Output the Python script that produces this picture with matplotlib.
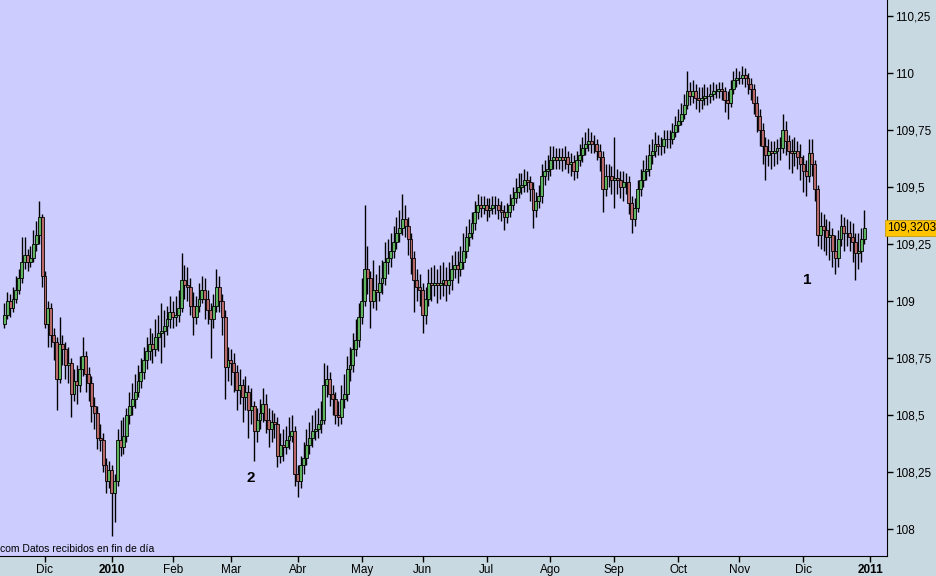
import numpy as np
import pandas as pd
import matplotlib
matplotlib.use('Agg')
import matplotlib.pyplot as plt

plt.rcParams['font.family'] = ['Liberation Sans', 'DejaVu Sans']

# sesiones diarias (dias habiles) 11-nov-2009 .. 30-dic-2010
dates = pd.bdate_range('2009-11-11', '2010-12-30')

first_open = 108.90
closes = [
    108.94, 109.00, 108.97, 109.01, 109.05, 109.10, 109.17, 109.20, 109.17, 109.19,
    109.25, 109.29, 109.37, 109.11, 108.90, 108.97, 108.85, 108.82, 108.66, 108.81,
    108.79, 108.72, 108.73, 108.59, 108.65, 108.63, 108.70, 108.76, 108.68, 108.64,
    108.54, 108.51, 108.40, 108.39, 108.28, 108.21, 108.26, 108.16, 108.21, 108.39,
    108.36, 108.41, 108.50, 108.54, 108.57, 108.60, 108.65, 108.69, 108.74, 108.78,
    108.81, 108.79, 108.84, 108.86, 108.87, 108.89, 108.92, 108.95, 108.93, 108.94,
    108.97, 109.09, 109.07, 109.06, 108.98, 108.93, 108.98, 109.01, 109.05, 109.01,
    108.96, 108.92, 108.98, 109.06, 109.00, 108.93, 108.71, 108.74, 108.73, 108.69,
    108.61, 108.63, 108.58, 108.60, 108.52, 108.54, 108.43, 108.48, 108.51, 108.55,
    108.48, 108.44, 108.47, 108.46, 108.32, 108.37, 108.36, 108.39, 108.41, 108.43,
    108.24, 108.21, 108.28, 108.31, 108.37, 108.40, 108.43, 108.44, 108.46, 108.48,
    108.63, 108.66, 108.59, 108.57, 108.50, 108.49, 108.57, 108.59, 108.70, 108.72,
    108.79, 108.83, 108.93, 109.00, 109.14, 109.10, 109.00, 109.05, 109.04, 109.08,
    109.10, 109.17, 109.19, 109.22, 109.26, 109.30, 109.32, 109.36, 109.33, 109.27,
    109.19, 109.09, 109.06, 109.05, 108.94, 109.01, 109.08, 109.07, 109.08, 109.07,
    109.08, 109.09, 109.07, 109.09, 109.14, 109.16, 109.14, 109.17, 109.22, 109.28,
    109.30, 109.34, 109.39, 109.42, 109.41, 109.42, 109.40, 109.41, 109.42, 109.42,
    109.40, 109.39, 109.37, 109.39, 109.42, 109.45, 109.48, 109.50, 109.51, 109.53,
    109.52, 109.49, 109.40, 109.44, 109.46, 109.55, 109.57, 109.58, 109.62, 109.63,
    109.62, 109.63, 109.62, 109.63, 109.60, 109.61, 109.57, 109.62, 109.64, 109.67,
    109.69, 109.70, 109.69, 109.69, 109.66, 109.63, 109.49, 109.55, 109.55, 109.53,
    109.54, 109.53, 109.50, 109.52, 109.52, 109.43, 109.36, 109.41, 109.49, 109.53,
    109.57, 109.58, 109.64, 109.66, 109.69, 109.68, 109.68, 109.71, 109.71, 109.71,
    109.74, 109.77, 109.79, 109.82, 109.86, 109.92, 109.90, 109.92, 109.89, 109.88,
    109.89, 109.90, 109.90, 109.91, 109.92, 109.92, 109.93, 109.92, 109.88, 109.87,
    109.93, 109.97, 109.98, 109.98, 109.99, 109.98, 109.95, 109.93, 109.87, 109.81,
    109.75, 109.68, 109.64, 109.66, 109.65, 109.66, 109.67, 109.67, 109.75, 109.70,
    109.66, 109.65, 109.66, 109.63, 109.60, 109.57, 109.55, 109.65, 109.60, 109.49,
    109.29, 109.33, 109.31, 109.28, 109.29, 109.22, 109.19, 109.27, 109.33, 109.30,
    109.30, 109.28, 109.26, 109.21, 109.22, 109.27, 109.3203,
]
highs = [
    108.99, 109.04, 109.03, 109.06, 109.11, 109.14, 109.28, 109.28, 109.23, 109.24,
    109.31, 109.35, 109.44, 109.38, 109.13, 109.00, 108.99, 108.88, 108.84, 108.93,
    108.85, 108.82, 108.80, 108.75, 108.70, 108.72, 108.76, 108.84, 108.78, 108.71,
    108.67, 108.58, 108.54, 108.46, 108.42, 108.31, 108.30, 108.28, 108.24, 108.44,
    108.48, 108.49, 108.53, 108.60, 108.64, 108.68, 108.72, 108.75, 108.80, 108.84,
    108.88, 108.86, 108.92, 108.94, 108.99, 108.96, 108.98, 109.02, 109.00, 109.02,
    109.05, 109.21, 109.16, 109.15, 109.10, 109.04, 109.02, 109.08, 109.11, 109.10,
    109.05, 108.99, 109.03, 109.14, 109.11, 109.03, 108.96, 108.80, 108.79, 108.77,
    108.72, 108.70, 108.66, 108.67, 108.63, 108.62, 108.56, 108.53, 108.57, 108.62,
    108.59, 108.53, 108.52, 108.51, 108.49, 108.42, 108.44, 108.45, 108.49, 108.50,
    108.45, 108.28, 108.32, 108.38, 108.44, 108.47, 108.50, 108.52, 108.53, 108.56,
    108.73, 108.72, 108.69, 108.63, 108.60, 108.56, 108.63, 108.68, 108.76, 108.80,
    108.86, 108.92, 108.99, 109.10, 109.42, 109.24, 109.13, 109.18, 109.12, 109.16,
    109.18, 109.26, 109.27, 109.30, 109.33, 109.37, 109.40, 109.47, 109.42, 109.37,
    109.30, 109.22, 109.14, 109.12, 109.08, 109.06, 109.14, 109.15, 109.16, 109.14,
    109.16, 109.17, 109.15, 109.17, 109.20, 109.22, 109.22, 109.24, 109.30, 109.33,
    109.36, 109.39, 109.44, 109.47, 109.46, 109.46, 109.45, 109.45, 109.46, 109.46,
    109.45, 109.44, 109.42, 109.43, 109.47, 109.50, 109.54, 109.56, 109.56, 109.58,
    109.57, 109.55, 109.52, 109.48, 109.51, 109.60, 109.62, 109.64, 109.68, 109.68,
    109.67, 109.67, 109.67, 109.68, 109.66, 109.65, 109.64, 109.66, 109.69, 109.72,
    109.74, 109.76, 109.74, 109.73, 109.71, 109.69, 109.66, 109.60, 109.60, 109.59,
    109.72, 109.58, 109.57, 109.57, 109.56, 109.55, 109.46, 109.45, 109.53, 109.58,
    109.62, 109.64, 109.69, 109.71, 109.74, 109.73, 109.72, 109.75, 109.75, 109.75,
    109.78, 109.81, 109.84, 109.87, 109.91, 110.01, 109.96, 109.97, 109.95, 109.94,
    109.94, 109.95, 109.94, 109.95, 109.96, 109.95, 109.96, 109.96, 109.94, 109.92,
    109.97, 110.01, 110.02, 110.01, 110.03, 110.02, 110.00, 109.98, 109.95, 109.90,
    109.84, 109.78, 109.72, 109.71, 109.70, 109.70, 109.71, 109.72, 109.82, 109.79,
    109.73, 109.71, 109.72, 109.70, 109.69, 109.64, 109.62, 109.71, 109.71, 109.62,
    109.51, 109.39, 109.38, 109.36, 109.35, 109.32, 109.29, 109.31, 109.38, 109.37,
    109.36, 109.35, 109.34, 109.30, 109.30, 109.32, 109.40,
]
lows = [
    108.88, 108.92, 108.93, 108.95, 108.99, 109.03, 109.08, 109.14, 109.13, 109.15,
    109.17, 109.22, 109.25, 109.06, 108.88, 108.80, 108.80, 108.74, 108.52, 108.64,
    108.72, 108.66, 108.64, 108.49, 108.56, 108.55, 108.60, 108.67, 108.60, 108.56,
    108.47, 108.44, 108.35, 108.34, 108.25, 108.16, 108.18, 107.97, 108.03, 108.19,
    108.32, 108.33, 108.38, 108.46, 108.50, 108.53, 108.58, 108.62, 108.66, 108.70,
    108.74, 108.73, 108.76, 108.78, 108.73, 108.80, 108.85, 108.88, 108.88, 108.89,
    108.91, 108.95, 109.01, 109.00, 108.94, 108.85, 108.90, 108.95, 108.99, 108.92,
    108.90, 108.75, 108.88, 108.95, 108.95, 108.85, 108.57, 108.65, 108.63, 108.60,
    108.52, 108.55, 108.47, 108.52, 108.40, 108.46, 108.30, 108.38, 108.44, 108.47,
    108.42, 108.36, 108.38, 108.40, 108.27, 108.29, 108.30, 108.33, 108.35, 108.38,
    108.19, 108.14, 108.18, 108.24, 108.28, 108.33, 108.36, 108.39, 108.40, 108.42,
    108.46, 108.58, 108.54, 108.50, 108.46, 108.45, 108.46, 108.53, 108.56, 108.65,
    108.69, 108.76, 108.80, 108.90, 108.98, 109.03, 108.88, 108.97, 108.96, 109.00,
    109.03, 109.07, 109.12, 109.15, 109.19, 109.23, 109.26, 109.29, 109.28, 109.20,
    109.12, 108.95, 109.00, 108.98, 108.86, 108.90, 108.98, 109.00, 109.02, 108.99,
    109.01, 109.02, 109.00, 109.03, 109.05, 109.10, 109.08, 109.11, 109.14, 109.19,
    109.24, 109.27, 109.31, 109.36, 109.37, 109.38, 109.35, 109.37, 109.38, 109.38,
    109.36, 109.35, 109.31, 109.34, 109.37, 109.40, 109.43, 109.45, 109.47, 109.48,
    109.48, 109.44, 109.32, 109.37, 109.41, 109.43, 109.51, 109.53, 109.55, 109.58,
    109.58, 109.58, 109.57, 109.58, 109.56, 109.55, 109.53, 109.54, 109.59, 109.61,
    109.64, 109.66, 109.65, 109.65, 109.62, 109.57, 109.39, 109.46, 109.50, 109.47,
    109.41, 109.47, 109.45, 109.44, 109.47, 109.38, 109.30, 109.33, 109.39, 109.46,
    109.50, 109.53, 109.55, 109.60, 109.63, 109.64, 109.64, 109.65, 109.67, 109.67,
    109.69, 109.72, 109.74, 109.77, 109.80, 109.84, 109.86, 109.87, 109.84, 109.83,
    109.84, 109.86, 109.86, 109.87, 109.88, 109.89, 109.89, 109.88, 109.83, 109.80,
    109.85, 109.91, 109.94, 109.95, 109.95, 109.94, 109.91, 109.88, 109.82, 109.74,
    109.68, 109.60, 109.53, 109.59, 109.58, 109.59, 109.60, 109.62, 109.65, 109.64,
    109.58, 109.56, 109.59, 109.58, 109.53, 109.48, 109.46, 109.52, 109.55, 109.44,
    109.24, 109.23, 109.22, 109.20, 109.18, 109.15, 109.12, 109.15, 109.24, 109.22,
    109.24, 109.22, 109.17, 109.09, 109.14, 109.17, 109.25,
]
month_names = ['Ene', 'Feb', 'Mar', 'Abr', 'May', 'Jun', 'Jul', 'Ago', 'Sep', 'Oct', 'Nov', 'Dic']
last_label = '109,3203'
footer = 'com Datos recibidos en fin de día'

closes = np.array(closes)
opens = np.concatenate([[first_open], closes[:-1]])  # apertura = cierre anterior
highs = np.maximum(np.array(highs), np.maximum(opens, closes))
lows = np.minimum(np.array(lows), np.minimum(opens, closes))
x = np.arange(len(closes))

fig = plt.figure(figsize=(9.36, 5.76), dpi=100, facecolor='#C9D9E1')
ax = fig.add_axes([0, 20 / 576, 887 / 936, 556 / 576])
ax.set_facecolor('#CCCCFF')

# mechas y cuerpos
ax.vlines(x, lows, highs, color='black', lw=1, zorder=1)
up = closes >= opens
body_lo = np.minimum(opens, closes)
body_h = np.abs(closes - opens)
ax.bar(x[up], body_h[up], bottom=body_lo[up], width=1.0, color='#5FB55F',
       edgecolor='black', linewidth=0.6, zorder=2)
ax.bar(x[~up], body_h[~up], bottom=body_lo[~up], width=1.0, color='#B86868',
       edgecolor='black', linewidth=0.6, zorder=2)

ax.set_xlim(-1.49, 303.85)
ax.set_ylim(107.8816, 110.3202)

for s in ['left', 'top']:
    ax.spines[s].set_visible(False)
ax.spines['right'].set_color('black')
ax.spines['bottom'].set_color('black')

# eje y a la derecha, decimales con coma
yt = np.arange(108, 110.26, 0.25)
ax.yaxis.tick_right()
ax.set_yticks(yt)
ax.set_yticklabels([f'{v:g}'.replace('.', ',') for v in yt])
ax.tick_params(axis='y', direction='out', length=4, width=1, labelsize=8.5, pad=2)

# meses
all_days = pd.bdate_range('2009-11-11', '2011-01-31')
month_starts = pd.date_range('2009-12-01', '2011-01-01', freq='MS')
xt = [all_days.searchsorted(m) for m in month_starts]
ax.set_xticks(xt)
labels = [str(m.year) if m.month == 1 else month_names[m.month - 1] for m in month_starts]
ax.set_xticklabels(labels)
for lab, m in zip(ax.get_xticklabels(), month_starts):
    if m.month == 1:
        lab.set_fontweight('bold')
        lab.set_fontsize(10)
ax.tick_params(axis='x', direction='out', length=4, width=1, labelsize=8.5, pad=2)

# etiqueta del ultimo precio
ax.text(1.0, closes[-1], last_label, transform=ax.get_yaxis_transform(),
        ha='left', va='center', fontsize=8.5, clip_on=False,
        bbox=dict(boxstyle='square,pad=0.15', fc='#FFC400', ec='#C09000', lw=0.5))

ax.text(807 / 887, 1 - 280 / 556, '1', transform=ax.transAxes, fontsize=11,
        fontweight='bold', ha='center', va='center')
ax.text(251 / 887, 1 - 478 / 556, '2', transform=ax.transAxes, fontsize=11,
        fontweight='bold', ha='center', va='center')
ax.text(0.0, 7 / 556, footer, transform=ax.transAxes, fontsize=7.5,
        ha='left', va='center')

fig.savefig('out.png', dpi=100, facecolor=fig.get_facecolor())
